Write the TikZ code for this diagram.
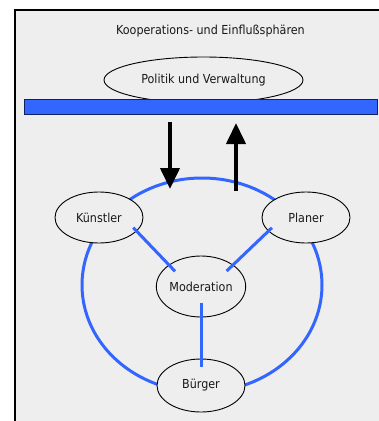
\documentclass[tikz,border=0pt]{standalone}
\usepackage{fontspec}
\setmainfont{DejaVu Sans Condensed}
\usetikzlibrary{shapes.geometric,arrows.meta}
\definecolor{bggray}{HTML}{EEEEEE}
\definecolor{linkblue}{HTML}{3366FF}
\definecolor{barline}{HTML}{102060}
\tikzset{
  actor/.style={ellipse, draw, line width=0.9pt, fill=bggray, inner sep=0pt,
    minimum width=88pt, minimum height=51pt, text=black!90,
    font=\fontsize{12.4}{14}\selectfont},
  link/.style={draw=linkblue, line width=3pt},
  flow/.style={line width=4pt, -{Triangle[width=19pt,length=21pt]}}
}
\begin{document}
\begin{tikzpicture}[x=1pt,y=-1pt]
        \useasboundingbox (0,0) rectangle (379,421);
        \fill[white] (0,0) rectangle (379,421);
        \draw[line width=1.5pt, fill=bggray] (15,10) rectangle (400,440);

        \node[text=black!90, font=\fontsize{12.4}{14}\selectfont] (title) at (210.5,31) {Kooperations- und Einflußsphären};
        \node[actor, minimum width=199pt, minimum height=46pt] (politik) at (203.5,80) {Politik und Verwaltung};
        \draw[draw=barline, fill=linkblue, line width=0.8pt] (24,99) rectangle (377,114);

        % the ring of partners
        \draw[link] (202,285) ellipse [x radius=120pt, y radius=107pt];

        \node[actor] (kuenstler) at (99,217.5) {Künstler};
        \node[actor] (planer) at (306,217.5) {Planer};
        \node[actor, minimum height=61pt] (moderation) at (201,286.5) {Moderation};
        \node[actor, minimum height=53pt] (buerger) at (201,385.5) {Bürger};

        \draw[link, shorten <=-5pt, shorten >=-9pt] (kuenstler.-20) -- (moderation.146);
        \draw[link, shorten <=-5pt, shorten >=-9pt] (planer.-160) -- (moderation.34);
        \draw[link, shorten <=-14pt, shorten >=-8pt] (moderation.south) -- (buerger.north);

        % influence up and down
        \coordinate (downstart) at (170,122);
        \coordinate (downend) at (170,189);
        \coordinate (upstart) at (236,191);
        \coordinate (upend) at (236,123);
        \draw[flow] (downstart) -- (downend);
        \draw[flow] (upstart) -- (upend);

    \end{tikzpicture}
\end{document}
